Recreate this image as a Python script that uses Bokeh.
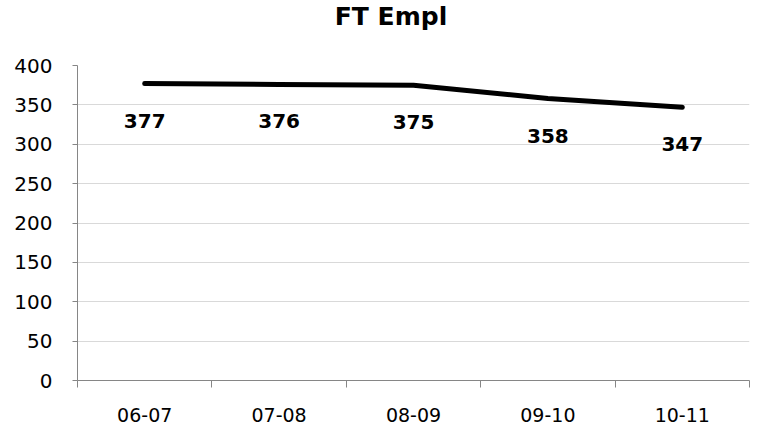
import numpy as np
from bokeh.plotting import figure
from bokeh.layouts import column
from bokeh.models import FixedTicker, Range1d, ColumnDataSource, Div
from bokeh.core.properties import value
from bokeh.embed import file_html
from bokeh.resources import INLINE

# Full-time employment by school year
years = ["06-07", "07-08", "08-09", "09-10", "10-11"]
ft_empl = [377, 376, 375, 358, 347]
y_ticks = [0, 50, 100, 150, 200, 250, 300, 350, 400]
chart_title = "FT Empl"

FONT = "DejaVu Sans"
AXIS_GREY = "#868686"
W, H = 768, 432
HEAD_H = 38

# heading strip above the chart
head = Div(text=f'<span style="position:relative;left:7px">{chart_title}</span>',
           width=W, height=HEAD_H,
           styles={"font-family": FONT, "font-size": "25px", "font-weight": "bold",
                   "color": "black", "line-height": "34px", "text-align": "center",
                   "margin": "0", "padding": "0", "background": "white"})

# category centres sit at 0.5, 1.5, ... so boundary ticks fall on integers
xs = np.arange(len(years)) + 0.5
src = ColumnDataSource(dict(x=xs, y=ft_empl, label=[str(v) for v in ft_empl]))

p = figure(width=W, height=H - HEAD_H, output_backend="svg", toolbar_location=None,
           x_range=Range1d(0, len(years)), y_range=Range1d(0, 400),
           min_border_left=77, min_border_right=19, min_border_top=65 - HEAD_H,
           min_border_bottom=52)
p.title = None

p.outline_line_color = None
p.background_fill_color = "white"
p.border_fill_color = "white"

p.line("x", "y", source=src, line_color="black", line_width=5, line_cap="round",
       line_join="round")
p.text("x", "y", text="label", source=src, text_align="center",
       text_baseline="middle", y_offset=37, text_font=value(FONT),
       text_font_size="20px", text_font_style="bold", text_color="black")

# y axis
p.yaxis.ticker = FixedTicker(ticks=y_ticks)
p.yaxis.axis_line_color = AXIS_GREY
p.yaxis.major_tick_line_color = AXIS_GREY
p.yaxis.major_tick_in = 0
p.yaxis.major_tick_out = 5
p.yaxis.minor_tick_line_color = None
p.yaxis.major_label_text_font = FONT
p.yaxis.major_label_text_font_size = "20px"
p.yaxis.major_label_text_color = "black"
p.yaxis.major_label_standoff = 20

# x axis: labels at category centres, tick marks at category boundaries
p.xaxis.ticker = FixedTicker(ticks=list(xs), minor_ticks=list(range(len(years) + 1)))
p.xaxis.major_label_overrides = {float(x): c for x, c in zip(xs, years)}
p.xaxis.axis_line_color = AXIS_GREY
p.xaxis.major_tick_line_color = None
p.xaxis.major_tick_in = 0
p.xaxis.major_tick_out = 0
p.xaxis.minor_tick_line_color = AXIS_GREY
p.xaxis.minor_tick_in = 0
p.xaxis.minor_tick_out = 7
p.xaxis.major_label_text_font = FONT
p.xaxis.major_label_text_font_size = "19px"
p.xaxis.major_label_text_color = "black"
p.xaxis.major_label_standoff = 20

p.xgrid.grid_line_color = None
p.ygrid.ticker = FixedTicker(ticks=y_ticks)
p.ygrid.grid_line_color = "#d9d9d9"
p.ygrid.grid_line_width = 1

layout = column(head, p, spacing=0)
open("out.html", "w").write(file_html(layout, INLINE))
